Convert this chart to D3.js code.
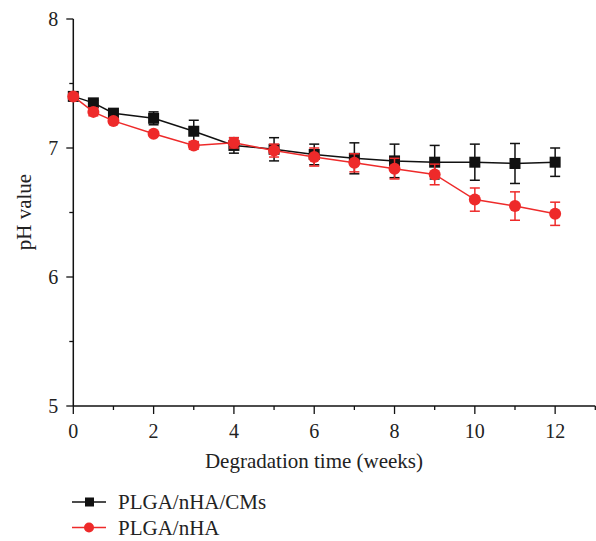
<!DOCTYPE html>
<html><head><meta charset="utf-8">
<script src="https://cdn.jsdelivr.net/npm/d3@7"></script>
<style>body{margin:0;background:#fff}svg{display:block}text{font-family:"Liberation Serif","Times New Roman",serif;fill:#222}</style>
</head><body><svg id="c" width="596" height="541"></svg>
<script>
const weeks = [0, 0.5, 1, 2, 3, 4, 5, 6, 7, 8, 9, 10, 11, 12];
const cmsValues = [7.40, 7.35, 7.27, 7.23, 7.13, 7.02, 6.99, 6.95, 6.92, 6.90, 6.89, 6.89, 6.88, 6.89];
const cmsErrors = [0.01, 0.02, 0.02, 0.05, 0.085, 0.06, 0.09, 0.08, 0.12, 0.13, 0.13, 0.14, 0.155, 0.11];
const nhaValues = [7.40, 7.28, 7.21, 7.11, 7.02, 7.04, 6.98, 6.93, 6.885, 6.84, 6.795, 6.60, 6.55, 6.49];
const nhaErrors = [0.02, 0.03, 0.02, 0.015, 0.03, 0.04, 0.05, 0.07, 0.07, 0.08, 0.08, 0.09, 0.11, 0.09];
const seriesNames = ["PLGA/nHA/CMs", "PLGA/nHA"];
const xTicks = [0, 2, 4, 6, 8, 10, 12];
const yTicks = [5, 6, 7, 8];
const xLabel = "Degradation time (weeks)";
const yLabel = "pH value";

const svg = d3.select("#c");
const x = d3.scaleLinear().domain([0, 13]).range([73.3, 595.3]);
const y = d3.scaleLinear().domain([5, 8]).range([406, 19]);

// axes
const xAxis = svg.append("g").attr("transform", "translate(0,406)");
xAxis.append("path").attr("d", `M${x(0)},0H${x(13)}`).attr("stroke", "#111").attr("stroke-width", 1.5);
d3.range(0, 14).forEach(v => {
  const major = xTicks.includes(v);
  xAxis.append("line").attr("x1", x(v)).attr("x2", x(v)).attr("y1", 0).attr("y2", major ? 8 : 4)
    .attr("stroke", "#111").attr("stroke-width", 1.3);
});
xAxis.selectAll("text.tk").data(xTicks).join("text").attr("class", "tk")
  .attr("x", d => x(d)).attr("y", 32).attr("text-anchor", "middle")
  .attr("font-size", 20).text(d => d);

const yAxis = svg.append("g").attr("transform", `translate(${x(0)},0)`);
yAxis.append("path").attr("d", `M0,${y(8)}V${y(5)}`).attr("stroke", "#111").attr("stroke-width", 1.5);
d3.range(5, 8.01, 0.5).forEach(v => {
  const major = Number.isInteger(v);
  yAxis.append("line").attr("x1", 0).attr("x2", major ? -7 : -4).attr("y1", y(v)).attr("y2", y(v))
    .attr("stroke", "#111").attr("stroke-width", 1.3);
});
yAxis.selectAll("text.tk").data(yTicks).join("text").attr("class", "tk")
  .attr("x", -15).attr("y", d => y(d) + 7).attr("text-anchor", "end")
  .attr("font-size", 20).text(d => d);

svg.append("text").attr("x", 314).attr("y", 468).attr("text-anchor", "middle")
  .attr("font-size", 21).text(xLabel);
svg.append("text").attr("transform", "translate(31,212) rotate(-90)").attr("text-anchor", "middle")
  .attr("font-size", 21).text(yLabel);

const series = [
  {name: seriesNames[0], vals: cmsValues, errs: cmsErrors, color: "#111111", shape: "square"},
  {name: seriesNames[1], vals: nhaValues, errs: nhaErrors, color: "#ee2a2a", shape: "circle"}
];
const line = d3.line().x(d => x(d[0])).y(d => y(d[1]));

function marker(g, shape, cx, cy, color) {
  if (shape === "square") {
    g.append("rect").attr("x", cx - 5.5).attr("y", cy - 5.5).attr("width", 11).attr("height", 11).attr("fill", color);
  } else {
    g.append("circle").attr("cx", cx).attr("cy", cy).attr("r", 6).attr("fill", color);
  }
}

series.forEach(s => {
  const g = svg.append("g");
  const pts = weeks.map((w, i) => [w, s.vals[i], s.errs[i]]);
  g.append("path").attr("d", line(pts)).attr("fill", "none").attr("stroke", s.color).attr("stroke-width", 1.5);
  pts.forEach(p => {
    const cx = x(p[0]), t = y(p[1] + p[2]), b = y(p[1] - p[2]);
    g.append("line").attr("x1", cx).attr("x2", cx).attr("y1", t).attr("y2", b).attr("stroke", s.color).attr("stroke-width", 1.5);
    [t, b].forEach(yy => g.append("line").attr("x1", cx - 5).attr("x2", cx + 5).attr("y1", yy).attr("y2", yy).attr("stroke", s.color).attr("stroke-width", 1.5));
  });
  pts.forEach(p => marker(g, s.shape, x(p[0]), y(p[1]), s.color));
});

// legend
series.forEach((s, i) => {
  const ly = 502 + i * 25.5;
  const g = svg.append("g");
  g.append("line").attr("x1", 72).attr("x2", 106).attr("y1", ly).attr("y2", ly).attr("stroke", s.color).attr("stroke-width", 1.5);
  if (s.shape === "square") g.append("rect").attr("x", 85).attr("y", ly - 4.5).attr("width", 9).attr("height", 9).attr("fill", s.color);
  else g.append("circle").attr("cx", 89).attr("cy", ly).attr("r", 5).attr("fill", s.color);
  g.append("text").attr("x", 118).attr("y", ly + 7).attr("font-size", 21).text(s.name);
});
</script></body></html>
